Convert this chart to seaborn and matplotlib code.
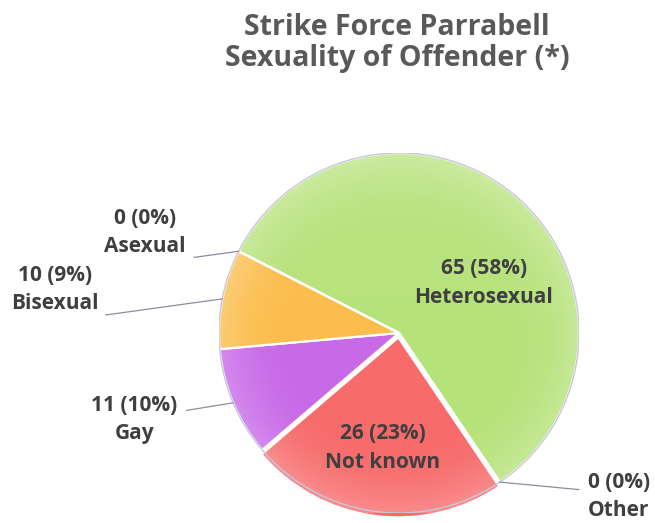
import numpy as np
import matplotlib
matplotlib.use('Agg')
import matplotlib.pyplot as plt
import seaborn as sns

# Data
categories = ['Heterosexual', 'Other', 'Not known', 'Gay', 'Bisexual', 'Asexual']
counts = [65, 0, 26, 11, 10, 0]
percents = ['58%', '0%', '23%', '10%', '9%', '0%']
colors = ['#b6e27a', '#9aa0d8', '#f76b6b', '#c86ae8', '#fbbd4c', '#c0c0c0']
explode = [0, 0, 0.025, 0, 0, 0]

sns.set_theme(style='white')
plt.rcParams['font.family'] = ['Open Sans', 'DejaVu Sans']

fig = plt.figure(figsize=(6.55, 5.23), dpi=100)
R = 180
cx, cy = 399, 333
ax = fig.add_axes([(cx - R) / 655, (523 - cy - R) / 523, 2 * R / 655, 2 * R / 523])

wedges, _ = ax.pie(counts, colors=colors, startangle=153, counterclock=False,
                   explode=explode, radius=1,
                   wedgeprops=dict(edgecolor='white', linewidth=1.6))
ax.set_xlim(-1, 1)
ax.set_ylim(-1, 1)
ax.axis('off')

# glossy shading, clipped to each wedge
yy, xx = np.mgrid[1.1:-1.1:300j, -1.1:1.1:300j]
rr = np.sqrt(xx ** 2 + yy ** 2)
shade = np.zeros(rr.shape + (4,))
shade[..., :3] = 1.0
shade[..., 3] = np.clip((rr - 0.6) / 0.4, 0, 1) ** 2 * 0.22 + np.clip(yy, 0, 1) * 0.08
for w in wedges:
    im = ax.imshow(shade, extent=(-1.1, 1.1, -1.1, 1.1), zorder=w.get_zorder() + 0.1,
                   interpolation='bilinear')
    im.set_clip_path(w)
ax.set_xlim(-1, 1)
ax.set_ylim(-1, 1)
rim = plt.Circle((0, 0), 1.0, fill=False, edgecolor='#c9c6dc', linewidth=1.0, zorder=5)
ax.add_patch(rim)

txt_color = '#3f3f3f'
# inside labels (position in radius units)
inside = {'Heterosexual': (0.47, 0.28), 'Not known': (-0.09, -0.64)}
# outside labels: text position, leader start point
outside = {
    'Asexual': ((-1.41, 0.56), (-1.14, 0.42)),
    'Bisexual': ((-1.91, 0.24), (-1.63, 0.10)),
    'Gay': ((-1.47, -0.48), (-1.18, -0.43)),
    'Other': ((1.22, -0.91), (1.0, -0.87)),
}

for w, cat, n, pct in zip(wedges, categories, counts, percents):
    label = f'{n} ({pct})\n{cat}'
    if cat in inside:
        x, y = inside[cat]
        ax.text(x, y, label, ha='center', va='center', fontsize=15, fontweight='bold',
                color=txt_color, linespacing=1.5, zorder=10)
    else:
        (tx, ty), (sx, sy) = outside[cat]
        ang = np.deg2rad((w.theta1 + w.theta2) / 2)
        ex, ey = np.cos(ang), np.sin(ang)
        ax.text(tx, ty, label, ha='center', va='center', fontsize=15, fontweight='bold',
                color=txt_color, linespacing=1.45, zorder=10, clip_on=False)
        ax.plot([sx, ex], [sy, ey], color='#8c8c9c', linewidth=0.9, clip_on=False, zorder=6)

fig.text(397 / 655, 1 - 43 / 523, 'Strike Force Parrabell\nSexuality of Offender (*)',
         ha='center', va='center', fontsize=20.5, fontweight='bold', color='#595959',
         linespacing=1.1)

fig.savefig('out.png', dpi=100)
